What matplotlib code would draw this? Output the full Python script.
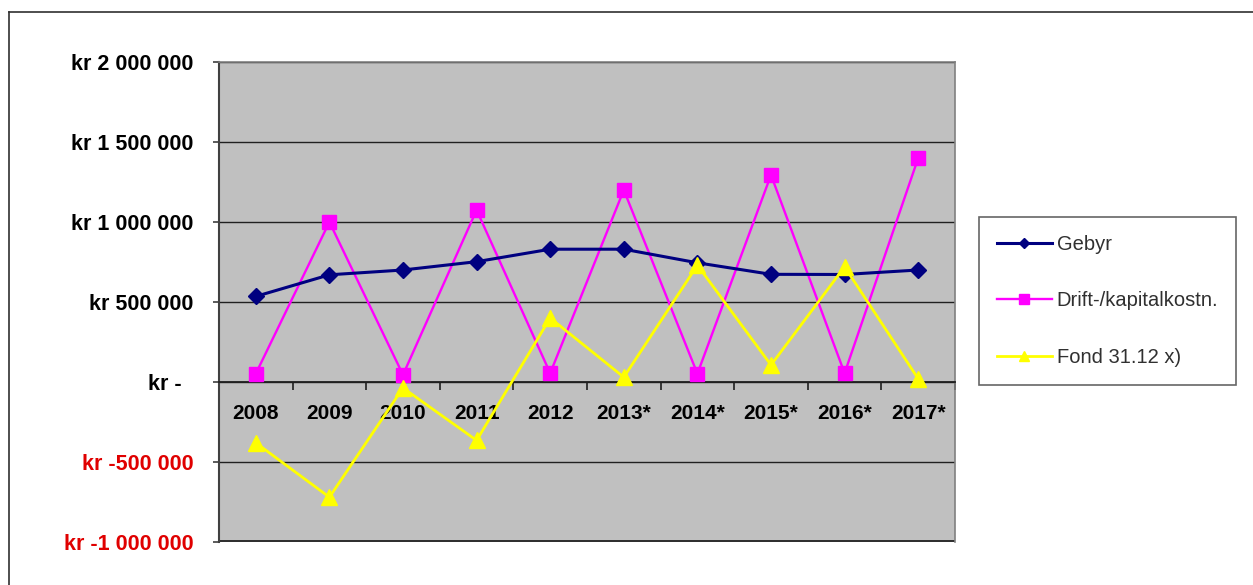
import matplotlib.pyplot as plt
from matplotlib.lines import Line2D
from matplotlib.patches import Rectangle
from matplotlib.ticker import FixedLocator

years = ["2008", "2009", "2010", "2011", "2012", "2013*", "2014*", "2015*", "2016*", "2017*"]
gebyr = [535000, 670000, 700000, 752000, 830000, 830000, 745000, 673000, 672000, 700000]
drift = [52000, 1000000, 45000, 1075000, 55000, 1200000, 52000, 1294000, 55000, 1400000]
fond = [-380000, -720000, -37000, -365000, 400000, 30000, 730000, 106000, 720000, 20000]

y_ticks = [-1000000, -500000, 0, 500000, 1000000, 1500000, 2000000]
y_labels = ["kr -1 000 000", "kr -500 000", "kr -  ", "kr 500 000",
            "kr 1 000 000", "kr 1 500 000", "kr 2 000 000"]

plt.rcParams["font.family"] = ["Liberation Sans", "DejaVu Sans"]

W, H = 1253, 585
fig = plt.figure(figsize=(W / 100, H / 100), dpi=100)
ax = fig.add_axes([219 / W, (H - 542) / H, 736 / W, 480 / H])
ax.set_facecolor("#C0C0C0")

x = list(range(len(years)))
ax.plot(x, gebyr, color="#000080", lw=2.2, marker="D", ms=8, label="Gebyr", zorder=4)
ax.plot(x, drift, color="#FF00FF", lw=1.7, marker="s", ms=10, label="Drift-/kapitalkostn.", zorder=3)
ax.plot(x, fond, color="#FFFF00", lw=2.0, marker="^", ms=11, label="Fond 31.12 x)", zorder=5)

ax.set_xlim(-0.5, len(years) - 0.5)
ax.set_ylim(-1000000, 2000000)

# horizontal grid lines
ax.set_yticks(y_ticks)
ax.set_yticklabels(y_labels)
ax.yaxis.grid(True, color="#202020", lw=1.0)
ax.set_axisbelow(True)
ax.tick_params(axis="y", length=4.5, width=1.2, color="#404040", pad=14,
               labelsize=15.5)
for lab, v in zip(ax.get_yticklabels(), y_ticks):
    lab.set_fontweight("bold")
    lab.set_color("#E00000" if v < 0 else "black")

# category axis sitting on zero
ax.spines["bottom"].set_position(("data", 0))
ax.spines["bottom"].set_color("#202020")
ax.spines["bottom"].set_linewidth(1.3)
ax.xaxis.set_major_locator(FixedLocator([i + 0.5 for i in range(-1, len(years))]))
ax.xaxis.set_major_formatter(plt.NullFormatter())
ax.set_xticks(x, minor=True)
ax.set_xticklabels(years, minor=True)
ax.tick_params(axis="x", which="major", length=6, width=1.2, color="#202020")
ax.tick_params(axis="x", which="minor", length=0, pad=16, labelsize=15)
for lab in ax.get_xticklabels(minor=True):
    lab.set_fontweight("bold")

ax.spines["left"].set_color("#404040")
ax.spines["left"].set_linewidth(1.5)
for s in ["top", "right"]:
    ax.spines[s].set_color("#808080")
    ax.spines[s].set_linewidth(1.2)
ax.add_patch(Rectangle((0, 0), 1, 0.004, transform=ax.transAxes,
                       color="#303030", lw=0, zorder=1, clip_on=False))

leg = fig.legend(loc="upper left", bbox_to_anchor=(979 / W, 1 - 217 / H),
                 fontsize=14.5, frameon=True, fancybox=False, edgecolor="#404040",
                 borderpad=0.9, borderaxespad=0, labelspacing=1.85, handlelength=2.7,
                 handletextpad=0.25, markerscale=0.7)
leg.get_frame().set_linewidth(1.2)
for t in leg.get_texts():
    t.set_color("#303030")

# outer chart frame
fig.add_artist(Line2D([9 / W, 1.0], [1 - 12 / H, 1 - 12 / H],
                      transform=fig.transFigure, color="#303030", lw=1.2))
fig.add_artist(Line2D([9 / W, 9 / W], [0, 1 - 12 / H],
                      transform=fig.transFigure, color="#303030", lw=1.2))

fig.savefig("out.png", dpi=100)
